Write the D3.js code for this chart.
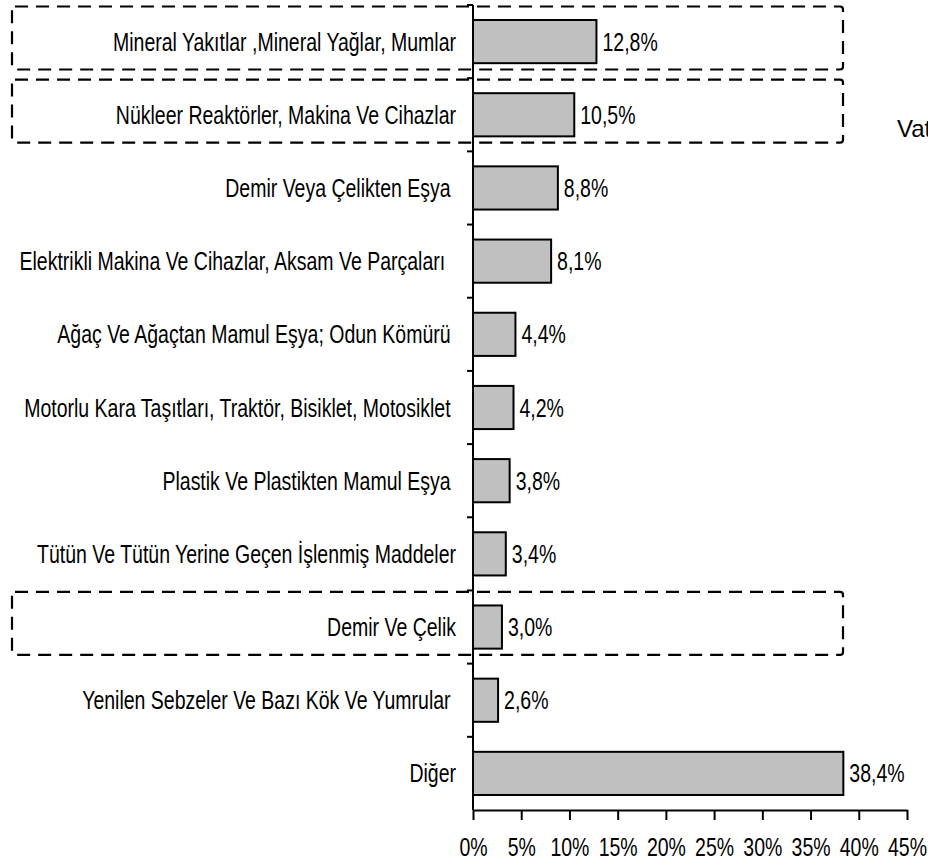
<!DOCTYPE html>
<html>
<head>
<meta charset="utf-8">
<script src="https://cdn.jsdelivr.net/npm/d3@7"></script>
<style>
  html, body { margin: 0; padding: 0; background: #fff; overflow: hidden; }
  svg { display: block; }
  text { font-family: "Liberation Sans", Arial, sans-serif; fill: #000; white-space: pre; }
</style>
</head>
<body>
<svg id="chart" width="928" height="867"></svg>
<script>
const categories = [
  "Mineral Yakıtlar ,Mineral Yağlar, Mumlar",
  "Nükleer Reaktörler, Makina Ve Cihazlar",
  "Demir Veya Çelikten Eşya ",
  "Elektrikli Makina Ve Cihazlar, Aksam Ve Parçaları  ",
  "Ağaç Ve Ağaçtan Mamul Eşya; Odun Kömürü ",
  "Motorlu Kara Taşıtları, Traktör, Bisiklet, Motosiklet ",
  "Plastik Ve Plastikten Mamul Eşya ",
  "Tütün Ve Tütün Yerine Geçen İşlenmiş Maddeler",
  "Demir Ve Çelik",
  "Yenilen Sebzeler Ve Bazı Kök Ve Yumrular ",
  "Diğer"
];
const values = [12.8, 10.5, 8.8, 8.1, 4.4, 4.2, 3.8, 3.4, 3.0, 2.6, 38.4];
const valueLabels = ["12,8%", "10,5%", "8,8%", "8,1%", "4,4%", "4,2%", "3,8%", "3,4%", "3,0%", "2,6%", "38,4%"];
const highlighted = [
  "Mineral Yakıtlar ,Mineral Yağlar, Mumlar",
  "Nükleer Reaktörler, Makina Ve Cihazlar",
  "Demir Ve Çelik"
];
const tickValues = [0, 5, 10, 15, 20, 25, 30, 35, 40, 45];
const tickLabels = ["0%", "5%", "10%", "15%", "20%", "25%", "30%", "35%", "40%", "45%"];
const sideText = "Vat";

const svg = d3.select("#chart");
const fontSize = 25;
const narrow = 0.78;   // horizontal squeeze to imitate a narrow typeface

const x = d3.scaleLinear().domain([0, 45]).range([473, 907]);
const y = d3.scaleBand().domain(categories).range([5, 810]).paddingInner(0.41).paddingOuter(0.205);
const step = y.step();
const bandStart = d => y(d) - step * y.paddingOuter();

// dashed highlight boxes
svg.append("g").selectAll("rect").data(highlighted).join("rect")
  .attr("x", 12)
  .attr("y", d => bandStart(d) + 1.5)
  .attr("width", 843 - 12)
  .attr("height", 63)
  .attr("rx", 3)
  .attr("fill", "none")
  .attr("stroke", "#000")
  .attr("stroke-width", 2.2)
  .attr("stroke-dasharray", "13,8");

// bars
svg.append("g").selectAll("rect").data(categories).join("rect")
  .attr("x", x(0))
  .attr("y", d => y(d))
  .attr("width", (d, i) => x(values[i]) - x(0))
  .attr("height", y.bandwidth())
  .attr("fill", "#c0c0c0")
  .attr("stroke", "#000")
  .attr("stroke-width", 2);

// value labels
svg.append("g").selectAll("text").data(categories).join("text")
  .attr("transform", (d, i) => `translate(${x(values[i]) + 6},${y(d) + y.bandwidth() / 2}) scale(${narrow},1)`)
  .attr("dy", "0.36em")
  .attr("font-size", fontSize)
  .text((d, i) => valueLabels[i]);

// category labels
svg.append("g").selectAll("text").data(categories).join("text")
  .attr("transform", d => `translate(456,${y(d) + y.bandwidth() / 2}) scale(${narrow},1)`)
  .attr("dy", "0.36em")
  .attr("text-anchor", "end")
  .attr("font-size", fontSize)
  .text(d => d);

// y axis line + ticks at band boundaries
const yAxis = svg.append("g").attr("stroke", "#000").attr("stroke-width", 2);
yAxis.append("line")
  .attr("x1", x(0)).attr("x2", x(0))
  .attr("y1", y.range()[0]).attr("y2", y.range()[1]);
const boundaries = categories.map(bandStart);
yAxis.selectAll("line.tick").data(boundaries).join("line")
  .attr("class", "tick")
  .attr("x1", x(0) - 6).attr("x2", x(0))
  .attr("y1", d => d).attr("y2", d => d);

// x axis
const xAxis = d3.axisBottom(x)
  .tickValues(tickValues)
  .tickFormat((d, i) => tickLabels[i])
  .tickSize(10)
  .tickSizeOuter(0)
  .tickPadding(18);
const gx = svg.append("g").attr("transform", `translate(0,${y.range()[1]})`).call(xAxis);
gx.attr("font-family", null).attr("font-size", null);
gx.select(".domain").attr("stroke", "#000").attr("stroke-width", 2);
gx.selectAll(".tick line").attr("stroke", "#000").attr("stroke-width", 2);
gx.selectAll(".tick text")
  .attr("font-size", fontSize)
  .attr("fill", "#000")
  .attr("transform", `scale(${narrow},1)`);

// side text (cut off at right edge, as in the reference)
svg.append("text")
  .attr("x", 897)
  .attr("y", 128)
  .attr("dy", "0.36em")
  .attr("font-size", fontSize - 1)
  .text(sideText);
</script>
</body>
</html>
